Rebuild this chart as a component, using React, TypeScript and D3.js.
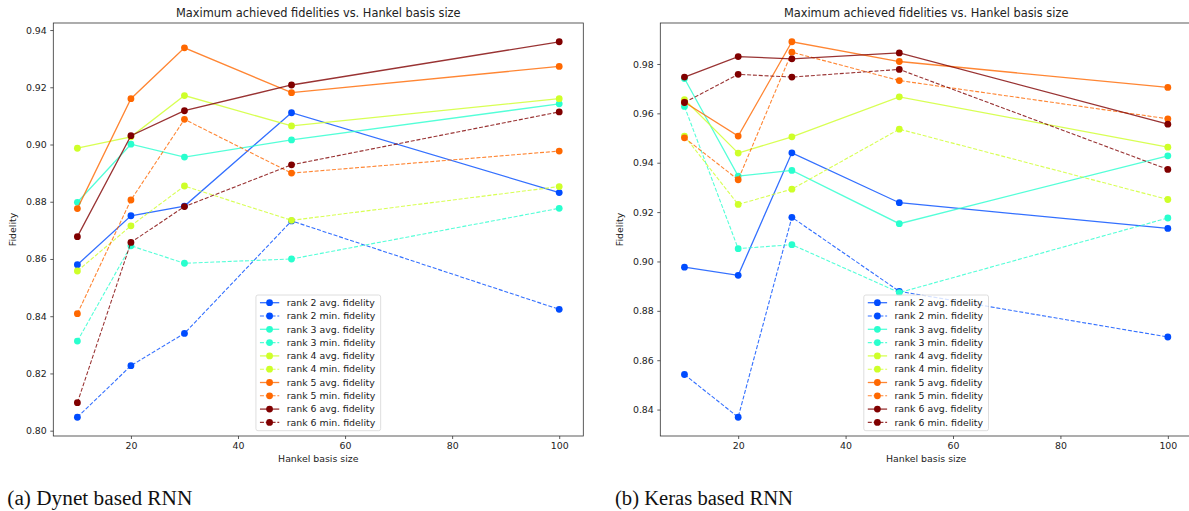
import React, { useEffect, useRef } from 'react';
import * as d3 from 'd3';

// Hankel basis sizes on the x axis
const hankelSizes = [10, 20, 30, 50, 100];
const ranks = [2, 3, 4, 5, 6];
const xTicks = [20, 40, 60, 80, 100];

// jet colormap samples, one per rank
const rankColors = ['#004cff', '#29ffce', '#ceff29', '#ff6800', '#800000'];

// (a) Dynet based RNN, rows are rank 2..6
const dynetAvg = [
  [0.858, 0.8751, 0.8785, 0.9111, 0.8832],
  [0.8798, 0.9001, 0.8956, 0.9016, 0.9142],
  [0.8987, 0.9027, 0.9171, 0.9065, 0.916],
  [0.8776, 0.916, 0.9338, 0.9181, 0.9273],
  [0.8678, 0.9031, 0.9118, 0.9208, 0.9359],
];
const dynetMin = [
  [0.8047, 0.8227, 0.834, 0.8733, 0.8424],
  [0.8313, 0.8646, 0.8585, 0.86, 0.8777],
  [0.8558, 0.8716, 0.8855, 0.8735, 0.8853],
  [0.8409, 0.8806, 0.9088, 0.89, 0.8977],
  [0.8098, 0.8658, 0.8783, 0.8929, 0.9114],
];
const dynetYTicks = [0.8, 0.82, 0.84, 0.86, 0.88, 0.9, 0.92, 0.94];

// (b) Keras based RNN
const kerasAvg = [
  [0.8977, 0.8944, 0.944, 0.9238, 0.9134],
  [0.9741, 0.9346, 0.9369, 0.9153, 0.9428],
  [0.9656, 0.9439, 0.9505, 0.9667, 0.9463],
  [0.9645, 0.9508, 0.989, 0.981, 0.9705],
  [0.9747, 0.983, 0.9821, 0.9845, 0.9556],
];
const kerasMin = [
  [0.8542, 0.8369, 0.9179, 0.8879, 0.8694],
  [0.9628, 0.9052, 0.9068, 0.8874, 0.9176],
  [0.9508, 0.9231, 0.9293, 0.9536, 0.9251],
  [0.9501, 0.9331, 0.9848, 0.9733, 0.9578],
  [0.9644, 0.9758, 0.9747, 0.9778, 0.9373],
];
const kerasYTicks = [0.84, 0.86, 0.88, 0.9, 0.92, 0.94, 0.96, 0.98];

const FONT = 'DejaVu Sans, sans-serif';
const TXT = '#222';
const SMALL = '9.4px';

type PanelOpts = {
  left: number;
  right: number;
  top: number;
  bottom: number;
  avg: number[][];
  mins: number[][];
  yTicks: number[];
};

function pad(ext: [number, number]): [number, number] {
  const r = ext[1] - ext[0];
  return [ext[0] - 0.05 * r, ext[1] + 0.05 * r];
}

function drawPanel(root: d3.Selection<SVGGElement, unknown, null, undefined>, o: PanelOpts) {
  const allVals = o.avg.flat().concat(o.mins.flat());
  const x = d3.scaleLinear().domain(pad(d3.extent(hankelSizes) as [number, number])).range([o.left, o.right]);
  const y = d3.scaleLinear().domain(pad(d3.extent(allVals) as [number, number])).range([o.bottom, o.top]);
  const cx = (o.left + o.right) / 2;

  const g = root.append('g');

  g.append('text')
    .attr('x', cx).attr('y', o.top - 6.5)
    .attr('text-anchor', 'middle')
    .style('font-family', FONT).style('font-size', '11.4px').attr('fill', TXT)
    .text('Maximum achieved fidelities vs. Hankel basis size');

  const clipId = 'clip' + Math.round(o.left);
  g.append('clipPath').attr('id', clipId)
    .append('rect').attr('x', o.left).attr('y', o.top)
    .attr('width', o.right - o.left).attr('height', o.bottom - o.top);

  const plot = g.append('g').attr('clip-path', `url(#${clipId})`);
  const line = d3.line<number>().x((_, i) => x(hankelSizes[i])).y((d) => y(d));

  ranks.forEach((_, ri) => {
    [o.avg[ri], o.mins[ri]].forEach((vals, k) => {
      const s = plot.append('g');
      s.append('path')
        .attr('d', line(vals))
        .attr('fill', 'none')
        .attr('stroke', rankColors[ri])
        .attr('stroke-width', k === 0 ? 1.3 : 1.1)
        .attr('stroke-opacity', 0.8)
        .attr('stroke-dasharray', k === 0 ? null : '4,1.8');
      s.selectAll('circle').data(vals).join('circle')
        .attr('cx', (_, i) => x(hankelSizes[i]))
        .attr('cy', (d) => y(d))
        .attr('r', 3.4)
        .attr('fill', rankColors[ri]);
    });
  });

  // frame
  g.append('rect')
    .attr('x', o.left).attr('y', o.top)
    .attr('width', o.right - o.left).attr('height', o.bottom - o.top)
    .attr('fill', 'none').attr('stroke', '#333').attr('stroke-width', 0.8);

  const xAxis = g.append('g').attr('transform', `translate(0,${o.bottom})`)
    .call(d3.axisBottom(x).tickValues(xTicks).tickSize(3).tickPadding(3).tickFormat(d3.format('d')));
  const yAxis = g.append('g').attr('transform', `translate(${o.left},0)`)
    .call(d3.axisLeft(y).tickValues(o.yTicks).tickSize(3).tickPadding(3.5).tickFormat(d3.format('.2f')));
  [xAxis, yAxis].forEach((a) => {
    a.select('.domain').remove();
    a.selectAll('line').attr('stroke', '#333').attr('stroke-width', 0.8);
    a.selectAll('text').style('font-family', FONT).style('font-size', SMALL).attr('fill', TXT);
  });

  g.append('text')
    .attr('x', cx).attr('y', o.bottom + 26)
    .attr('text-anchor', 'middle')
    .style('font-family', FONT).style('font-size', SMALL).attr('fill', TXT)
    .text('Hankel basis size');
  g.append('text')
    .attr('transform', `translate(${o.left - 37},${(o.top + o.bottom) / 2}) rotate(-90)`)
    .attr('text-anchor', 'middle')
    .style('font-family', FONT).style('font-size', SMALL).attr('fill', TXT)
    .text('Fidelity');

  // legend, lower center
  const lw = 124.7, lh = 135.7;
  const lx = cx - lw / 2, ly = o.bottom - 5.3 - lh;
  const leg = g.append('g');
  leg.append('rect')
    .attr('x', lx).attr('y', ly).attr('width', lw).attr('height', lh)
    .attr('rx', 2).attr('fill', 'white').attr('fill-opacity', 0.8)
    .attr('stroke', '#d6d6d6').attr('stroke-width', 0.8);
  const entries: { label: string; color: string; dashed: boolean }[] = [];
  ranks.forEach((r, ri) => {
    entries.push({ label: `rank ${r} avg. fidelity`, color: rankColors[ri], dashed: false });
    entries.push({ label: `rank ${r} min. fidelity`, color: rankColors[ri], dashed: true });
  });
  entries.forEach((e, i) => {
    const ey = ly + 7.7 + i * 13.3;
    leg.append('line')
      .attr('x1', lx + 4).attr('x2', lx + 23.3).attr('y1', ey).attr('y2', ey)
      .attr('stroke', e.color).attr('stroke-width', e.dashed ? 1.1 : 1.3).attr('stroke-opacity', 0.8)
      .attr('stroke-dasharray', e.dashed ? '4,1.8' : null);
    leg.append('circle').attr('cx', lx + 13.6).attr('cy', ey).attr('r', 3.4).attr('fill', e.color);
    leg.append('text')
      .attr('x', lx + 30.7).attr('y', ey).attr('dy', '0.35em')
      .style('font-family', FONT).style('font-size', SMALL).attr('fill', TXT)
      .text(e.label);
  });
}

const App = () => {
  const ref = useRef<SVGSVGElement>(null);

  useEffect(() => {
    const svg = d3.select(ref.current);
    svg.selectAll('*').remove();
    const root = svg.append('g') as any;
    drawPanel(root, { left: 53.3, right: 583.3, top: 23, bottom: 436, avg: dynetAvg, mins: dynetMin, yTicks: dynetYTicks });
    drawPanel(root, { left: 660.3, right: 1192, top: 23, bottom: 436, avg: kerasAvg, mins: kerasMin, yTicks: kerasYTicks });

    root.append('text')
      .attr('x', 7.3).attr('y', 504.5)
      .attr('textLength', 185).attr('lengthAdjust', 'spacingAndGlyphs')
      .style('font-family', 'Liberation Serif, serif').style('font-size', '20.5px').attr('fill', '#111')
      .text('(a) Dynet based RNN');
    root.append('text')
      .attr('x', 615).attr('y', 504.5)
      .attr('textLength', 178).attr('lengthAdjust', 'spacingAndGlyphs')
      .style('font-family', 'Liberation Serif, serif').style('font-size', '20.5px').attr('fill', '#111')
      .text('(b) Keras based RNN');
  }, []);

  return (
    <svg
      ref={ref}
      width={1189}
      height={511}
      style={{ position: 'absolute', left: 0, top: 0, background: 'white' }}
    />
  );
};

export default App;
